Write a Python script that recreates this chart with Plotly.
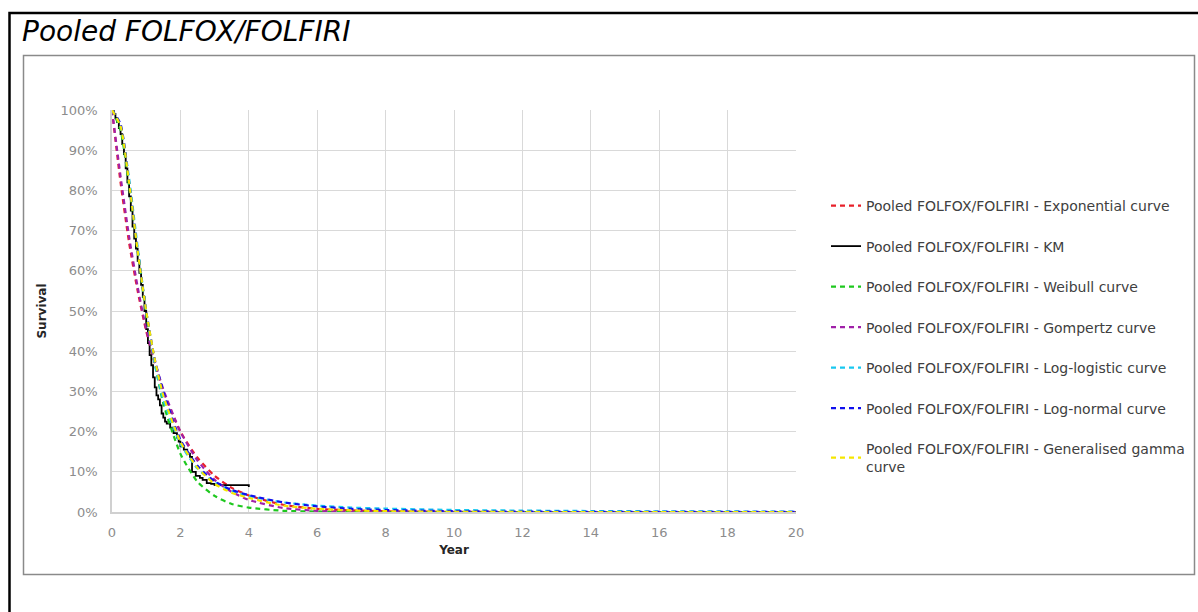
import plotly.graph_objects as go

# ---------------- data ----------------
prefix = "Pooled FOLFOX/FOLFIRI - "
series_names = ["Exponential curve", "KM", "Weibull curve", "Gompertz curve",
                "Log-logistic curve", "Log-normal curve", "Generalised gamma<br>curve"]

# Kaplan-Meier step data (years, survival)
km_t = [0, 0.05, 0.1, 0.15, 0.2, 0.25, 0.3, 0.35, 0.4, 0.45, 0.5, 0.55, 0.6, 0.65, 0.7, 0.75,
        0.8, 0.85, 0.9, 0.95, 1.0, 1.05, 1.1, 1.15, 1.2, 1.25, 1.3, 1.35, 1.4, 1.45, 1.5, 1.55,
        1.6, 1.7, 1.8, 1.9, 1.95, 2.0, 2.1, 2.2, 2.28, 2.34, 2.45, 2.57, 2.65, 2.77, 2.9, 3.0,
        4.0, 4.0]
km_s = [1.00, 0.99, 0.98, 0.97, 0.955, 0.94, 0.915, 0.89, 0.855, 0.82, 0.785, 0.75, 0.71, 0.68, 0.655, 0.625,
        0.595, 0.565, 0.535, 0.50, 0.455, 0.42, 0.39, 0.365, 0.335, 0.31, 0.29, 0.28, 0.265, 0.245, 0.235, 0.225,
        0.22, 0.21, 0.196, 0.185, 0.175, 0.163, 0.155, 0.145, 0.137, 0.10, 0.09, 0.085, 0.08, 0.072, 0.07, 0.067,
        0.067, 0.062]

# Parametric curves, common time grid (years)
t_grid = [0, 0.25, 0.5, 0.75, 1.0, 1.25, 1.5, 2.0, 2.5, 3.0, 3.5, 4.0, 5.0, 6.0, 7.0, 8.0,
          10.0, 12.0, 14.0, 16.0, 18.0, 20.0]
exp_s = [1.00, 0.82, 0.67, 0.55, 0.45, 0.37, 0.30, 0.20, 0.135, 0.09, 0.06, 0.041, 0.018, 0.008, 0.004, 0.002,
         0.0003, 0.0, 0.0, 0.0, 0.0, 0.0]
weib_s = [1.00, 0.95, 0.81, 0.65, 0.49, 0.37, 0.27, 0.145, 0.075, 0.04, 0.02, 0.011, 0.003, 0.001, 0.0, 0.0,
          0.0, 0.0, 0.0, 0.0, 0.0, 0.0]
gomp_s = [1.00, 0.835, 0.685, 0.56, 0.455, 0.375, 0.305, 0.20, 0.128, 0.08, 0.05, 0.03, 0.01, 0.003, 0.001, 0.0,
          0.0, 0.0, 0.0, 0.0, 0.0, 0.0]
llog_s = [1.00, 0.96, 0.83, 0.66, 0.50, 0.37, 0.28, 0.17, 0.108, 0.074, 0.053, 0.040, 0.024, 0.016, 0.011, 0.0085,
          0.005, 0.0035, 0.0025, 0.0018, 0.0014, 0.001]
lnorm_s = [1.00, 0.965, 0.82, 0.65, 0.50, 0.38, 0.30, 0.18, 0.115, 0.076, 0.055, 0.042, 0.024, 0.014, 0.008, 0.005,
           0.002, 0.001, 0.0005, 0.0003, 0.0002, 0.0001]
ggam_s = [1.00, 0.96, 0.82, 0.65, 0.50, 0.38, 0.29, 0.175, 0.11, 0.07, 0.048, 0.035, 0.016, 0.008, 0.004, 0.002,
          0.0005, 0.0001, 0.0, 0.0, 0.0, 0.0]

x_ticks = [0, 2, 4, 6, 8, 10, 12, 14, 16, 18, 20]
y_ticks = [0, 0.1, 0.2, 0.3, 0.4, 0.5, 0.6, 0.7, 0.8, 0.9, 1.0]

# ---------------- styling ----------------
colors = ["#e8202a", "#000000", "#1ec81e", "#a020a8", "#18c8f0", "#1010ee", "#f5e600"]
W, H = 1198, 612
L, R, T, B = 112, 796, 110, 512   # plot-area pixel box
DASH = "5px,4px"
FONT = "DejaVu Sans, Liberation Sans, Arial, sans-serif"

fig = go.Figure()
curve_data = [(t_grid, exp_s), (km_t, km_s), (t_grid, weib_s), (t_grid, gomp_s),
              (t_grid, llog_s), (t_grid, lnorm_s), (t_grid, ggam_s)]
for i, (name, (xs, ys)) in enumerate(zip(series_names, curve_data)):
    if name == "KM":
        line = dict(color=colors[i], width=1.8, shape="hv")
    else:
        line = dict(color=colors[i], width=2.2, dash=DASH, shape="spline", smoothing=0.6)
    fig.add_trace(go.Scatter(x=xs, y=ys, mode="lines", name=prefix + name,
                             line=line, legendgroup=str(i)))


def px_x(p):
    return (p - L) / (R - L)


def px_y(p):
    return (B - p) / (B - T)


shapes = [
    # outer black frame (extends past the window on right/bottom)
    dict(type="rect", xref="paper", yref="paper", x0=px_x(9.5), x1=px_x(1210), y0=px_y(13), y1=px_y(630),
         line=dict(color="#000000", width=2.5), layer="below"),
    # inner grey chart box
    dict(type="rect", xref="paper", yref="paper", x0=px_x(23.5), x1=px_x(1194.5), y0=px_y(55.5), y1=px_y(574.5),
         line=dict(color="#8a8a8a", width=1.5), layer="below"),
]

fig.update_layout(
    width=W, height=H,
    margin=dict(l=L, r=W - R, t=T, b=H - B, autoexpand=False),
    paper_bgcolor="white", plot_bgcolor="white",
    font=dict(family=FONT, size=12, color="#595959"),
    shapes=shapes,
    showlegend=True,
    legend=dict(x=px_x(826), y=px_y(190), xanchor="left", yanchor="top",
                font=dict(family=FONT, size=14, color="#404040"),
                tracegroupgap=19.3, itemwidth=30, bgcolor="rgba(0,0,0,0)"),
    annotations=[
        dict(text="<i>Pooled FOLFOX/FOLFIRI</i>", xref="paper", yref="paper",
             x=px_x(20), y=px_y(31), xanchor="left", yanchor="middle", showarrow=False,
             font=dict(family=FONT, size=28, color="#000000")),
    ],
    xaxis=dict(range=[0, 20], tickvals=x_ticks, showgrid=True, gridcolor="#d9d9d9", gridwidth=1,
               showline=True, linecolor="#d0d0d0", linewidth=1.5, zeroline=False,
               tickfont=dict(family=FONT, size=13, color="#8c8c8c"), ticks="", ticklabelstandoff=8,
               title=dict(text="<b>Year</b>", font=dict(family=FONT, size=12, color="#262626"), standoff=6)),
    yaxis=dict(range=[0, 1.0], tickvals=y_ticks, tickformat=".0%", showgrid=True, gridcolor="#d9d9d9",
               gridwidth=1, showline=True, linecolor="#d0d0d0", linewidth=1.5, zeroline=False,
               tickfont=dict(family=FONT, size=13, color="#8c8c8c"), ticks="", ticklabelstandoff=10,
               title=dict(text="<b>Survival</b>", font=dict(family=FONT, size=12, color="#262626"), standoff=11)),
)

fig.write_html("out.html")
